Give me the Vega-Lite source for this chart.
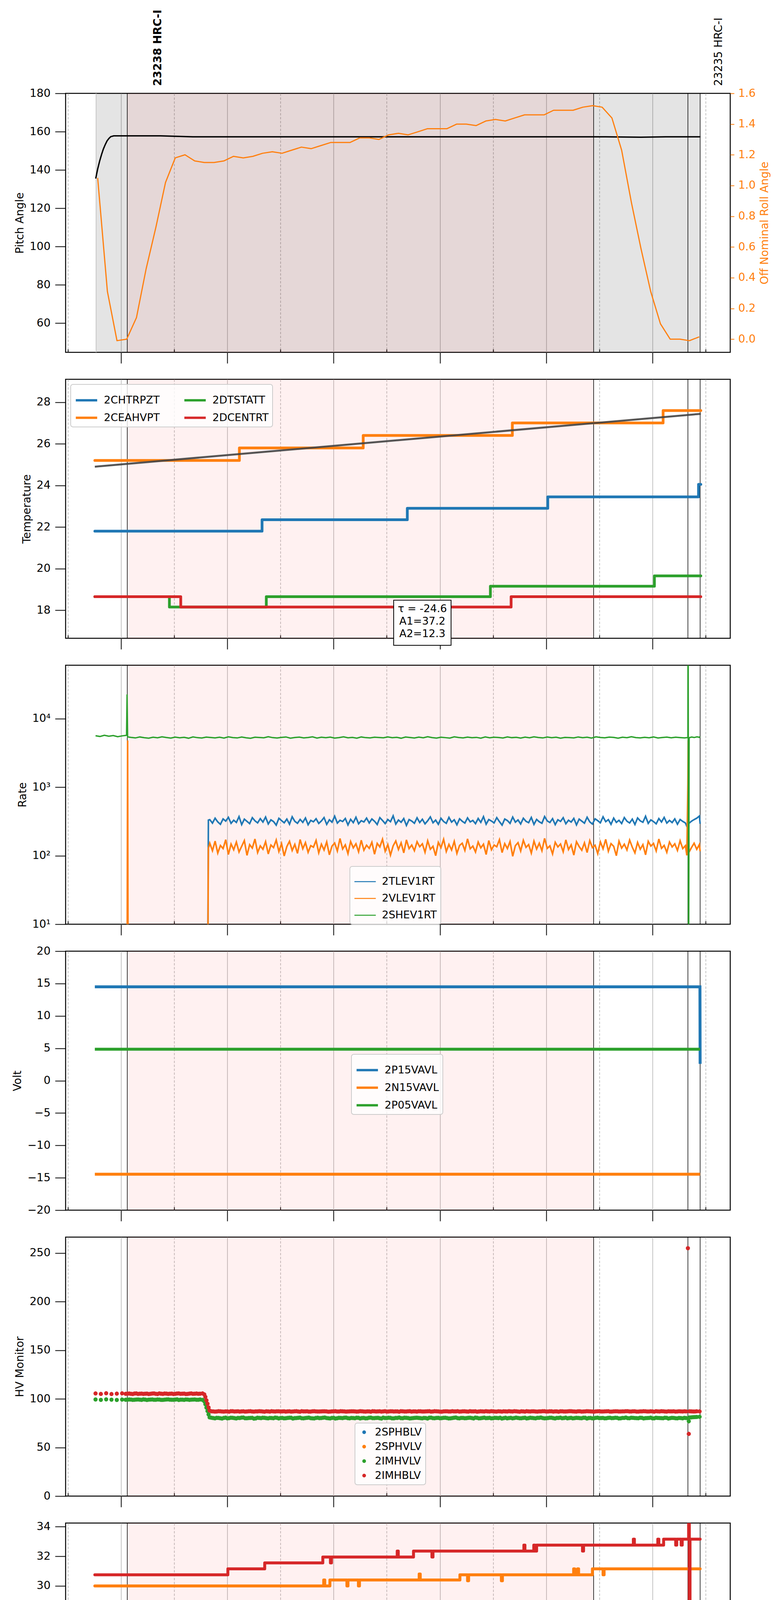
{
"$schema": "https://vega.github.io/schema/vega-lite/v6.json",
"background": "white",
"padding": {"left": 30, "top": 23, "right": 10, "bottom": 6},
"autosize": {"type": "pad"},
"spacing": 69,
"bounds": "flush",
"datasets": {
"spans": [{"span":"dwell","t":45.9,"t2":386.9},{"span":"obs","t":63.5,"t2":326.8}],
"events": [{"t":63.5},{"t":326.8},{"t":380.0},{"t":386.9}],
"obsids": [{"t":80.9,"label":"23238 HRC-I","current":true},{"t":397.6,"label":"23235 HRC-I","current":false}],
"pitch": [{"t":45.7,"v":135.5},{"t":46.8,"v":140.5},{"t":47.9,"v":144.6},{"t":49.0,"v":148.1},{"t":50.0,"v":150.9},{"t":51.1,"v":153.3},{"t":52.1,"v":155.2},{"t":53.2,"v":156.5},{"t":54.2,"v":157.4},{"t":55.9,"v":157.8},{"t":82.3,"v":157.8},{"t":100.6,"v":157.3},{"t":333.6,"v":157.3},{"t":353.4,"v":157.1},{"t":367.4,"v":157.3},{"t":387.1,"v":157.3}],
"roll": [{"t":46.8,"v":1.05},{"t":52.3,"v":0.31},{"t":57.7,"v":-0.01},{"t":63.2,"v":0.0},{"t":68.7,"v":0.14},{"t":74.2,"v":0.46},{"t":79.7,"v":0.73},{"t":85.1,"v":1.02},{"t":90.6,"v":1.18},{"t":96.1,"v":1.2},{"t":101.6,"v":1.16},{"t":107.0,"v":1.15},{"t":112.5,"v":1.15},{"t":118.0,"v":1.16},{"t":123.5,"v":1.19},{"t":129.0,"v":1.18},{"t":134.4,"v":1.19},{"t":139.9,"v":1.21},{"t":145.4,"v":1.22},{"t":150.9,"v":1.21},{"t":156.3,"v":1.23},{"t":161.8,"v":1.25},{"t":167.3,"v":1.24},{"t":172.8,"v":1.26},{"t":178.3,"v":1.28},{"t":183.7,"v":1.28},{"t":189.2,"v":1.28},{"t":194.7,"v":1.31},{"t":200.2,"v":1.31},{"t":205.6,"v":1.3},{"t":211.1,"v":1.33},{"t":216.6,"v":1.34},{"t":222.1,"v":1.33},{"t":227.6,"v":1.35},{"t":233.0,"v":1.37},{"t":238.5,"v":1.37},{"t":244.0,"v":1.37},{"t":249.5,"v":1.4},{"t":254.9,"v":1.4},{"t":260.4,"v":1.39},{"t":265.9,"v":1.42},{"t":271.4,"v":1.43},{"t":276.9,"v":1.42},{"t":282.3,"v":1.44},{"t":287.8,"v":1.46},{"t":293.3,"v":1.46},{"t":298.8,"v":1.46},{"t":304.2,"v":1.49},{"t":309.7,"v":1.49},{"t":315.2,"v":1.49},{"t":320.7,"v":1.51},{"t":326.2,"v":1.52},{"t":331.6,"v":1.51},{"t":337.1,"v":1.44},{"t":342.6,"v":1.23},{"t":348.1,"v":0.89},{"t":353.5,"v":0.59},{"t":359.0,"v":0.31},{"t":364.5,"v":0.1},{"t":370.0,"v":0.0},{"t":375.5,"v":0.0},{"t":380.9,"v":-0.01},{"t":386.4,"v":0.015}],
"temp": [{"t":45.2,"s":"2CHTRPZT","v":21.8},{"t":139.6,"s":"2CHTRPZT","v":22.35},{"t":221.6,"s":"2CHTRPZT","v":22.9},{"t":300.9,"s":"2CHTRPZT","v":23.45},{"t":386.0,"s":"2CHTRPZT","v":24.05},{"t":387.3,"s":"2CHTRPZT","v":24.05},
{"t":45.2,"s":"2CEAHVPT","v":25.2},{"t":126.8,"s":"2CEAHVPT","v":25.8},{"t":196.7,"s":"2CEAHVPT","v":26.4},{"t":280.9,"s":"2CEAHVPT","v":27.0},{"t":366.0,"s":"2CEAHVPT","v":27.6},{"t":387.3,"s":"2CEAHVPT","v":27.6},
{"t":45.2,"s":"2DTSTATT","v":18.65},{"t":87.3,"s":"2DTSTATT","v":18.15},{"t":142.0,"s":"2DTSTATT","v":18.65},{"t":268.5,"s":"2DTSTATT","v":19.15},{"t":361.1,"s":"2DTSTATT","v":19.65},{"t":387.3,"s":"2DTSTATT","v":19.65},
{"t":45.2,"s":"2DCENTRT","v":18.65},{"t":93.7,"s":"2DCENTRT","v":18.15},{"t":280.2,"s":"2DCENTRT","v":18.65},{"t":387.3,"s":"2DCENTRT","v":18.65}],
"fit": [{"t":45.2,"v":24.9},{"t":387.3,"v":27.44}],
"fitinfo": [{"label":"τ = -24.6\nA1=37.2\nA2=12.3"}],
"rate_tv": [{"t":45.6,"2TLEV1RT":1,"2VLEV1RT":1},{"t":63.4,"2TLEV1RT":1,"2VLEV1RT":1},{"t":63.7,"2TLEV1RT":1,"2VLEV1RT":4800},{"t":64.0,"2TLEV1RT":1,"2VLEV1RT":1},{"t":108.9,"2TLEV1RT":1,"2VLEV1RT":1},{"t":109.3,"2TLEV1RT":330,"2VLEV1RT":128},
{"t":110.1,"2TLEV1RT":335,"2VLEV1RT":152},{"t":111.6,"2TLEV1RT":298,"2VLEV1RT":118},{"t":113.1,"2TLEV1RT":352,"2VLEV1RT":163},{"t":114.6,"2TLEV1RT":311,"2VLEV1RT":109},{"t":116.1,"2TLEV1RT":287,"2VLEV1RT":141},{"t":117.6,"2TLEV1RT":344,"2VLEV1RT":127},{"t":119.1,"2TLEV1RT":319,"2VLEV1RT":171},{"t":120.6,"2TLEV1RT":363,"2VLEV1RT":104},{"t":122.1,"2TLEV1RT":296,"2VLEV1RT":148},{"t":123.6,"2TLEV1RT":329,"2VLEV1RT":122},{"t":125.1,"2TLEV1RT":305,"2VLEV1RT":158},{"t":126.6,"2TLEV1RT":372,"2VLEV1RT":113},{"t":128.1,"2TLEV1RT":284,"2VLEV1RT":137},{"t":129.6,"2TLEV1RT":341,"2VLEV1RT":166},{"t":131.1,"2TLEV1RT":316,"2VLEV1RT":101},{"t":132.6,"2TLEV1RT":293,"2VLEV1RT":145},{"t":134.1,"2TLEV1RT":358,"2VLEV1RT":129},{"t":135.6,"2TLEV1RT":322,"2VLEV1RT":175},{"t":137.1,"2TLEV1RT":301,"2VLEV1RT":111},{"t":138.6,"2TLEV1RT":347,"2VLEV1RT":139},
{"t":140.1,"2TLEV1RT":309,"2VLEV1RT":124},{"t":141.6,"2TLEV1RT":366,"2VLEV1RT":160},{"t":143.1,"2TLEV1RT":290,"2VLEV1RT":106},{"t":144.6,"2TLEV1RT":333,"2VLEV1RT":143},{"t":146.1,"2TLEV1RT":314,"2VLEV1RT":131},{"t":147.6,"2TLEV1RT":279,"2VLEV1RT":169},{"t":149.1,"2TLEV1RT":351,"2VLEV1RT":115},{"t":150.6,"2TLEV1RT":325,"2VLEV1RT":150},{"t":152.1,"2TLEV1RT":302,"2VLEV1RT":99},{"t":153.6,"2TLEV1RT":342,"2VLEV1RT":136},{"t":155.1,"2TLEV1RT":288,"2VLEV1RT":162},{"t":156.6,"2TLEV1RT":369,"2VLEV1RT":119},{"t":158.1,"2TLEV1RT":317,"2VLEV1RT":146},{"t":159.6,"2TLEV1RT":297,"2VLEV1RT":108},{"t":161.1,"2TLEV1RT":338,"2VLEV1RT":172},{"t":162.6,"2TLEV1RT":306,"2VLEV1RT":126},{"t":164.1,"2TLEV1RT":355,"2VLEV1RT":155},{"t":165.6,"2TLEV1RT":283,"2VLEV1RT":112},{"t":167.1,"2TLEV1RT":327,"2VLEV1RT":140},{"t":168.6,"2TLEV1RT":312,"2VLEV1RT":133},
{"t":170.1,"2TLEV1RT":346,"2VLEV1RT":167},{"t":171.6,"2TLEV1RT":295,"2VLEV1RT":110},{"t":173.1,"2TLEV1RT":321,"2VLEV1RT":147},{"t":174.6,"2TLEV1RT":360,"2VLEV1RT":121},{"t":176.1,"2TLEV1RT":286,"2VLEV1RT":159},{"t":177.6,"2TLEV1RT":334,"2VLEV1RT":103},{"t":179.1,"2TLEV1RT":308,"2VLEV1RT":138},{"t":180.6,"2TLEV1RT":377,"2VLEV1RT":153},{"t":182.1,"2TLEV1RT":299,"2VLEV1RT":117},{"t":183.6,"2TLEV1RT":328,"2VLEV1RT":178},{"t":185.1,"2TLEV1RT":315,"2VLEV1RT":125},{"t":186.6,"2TLEV1RT":349,"2VLEV1RT":144},{"t":188.1,"2TLEV1RT":281,"2VLEV1RT":107},{"t":189.6,"2TLEV1RT":339,"2VLEV1RT":161},{"t":191.1,"2TLEV1RT":303,"2VLEV1RT":130},{"t":192.6,"2TLEV1RT":364,"2VLEV1RT":149},{"t":194.1,"2TLEV1RT":292,"2VLEV1RT":114},{"t":195.6,"2TLEV1RT":324,"2VLEV1RT":168},{"t":197.1,"2TLEV1RT":310,"2VLEV1RT":120},{"t":198.6,"2TLEV1RT":353,"2VLEV1RT":142},
{"t":200.1,"2TLEV1RT":300,"2VLEV1RT":128},{"t":201.6,"2TLEV1RT":343,"2VLEV1RT":157},{"t":203.1,"2TLEV1RT":318,"2VLEV1RT":105},{"t":204.6,"2TLEV1RT":285,"2VLEV1RT":151},{"t":206.1,"2TLEV1RT":359,"2VLEV1RT":134},{"t":207.6,"2TLEV1RT":326,"2VLEV1RT":174},{"t":209.1,"2TLEV1RT":294,"2VLEV1RT":116},{"t":210.6,"2TLEV1RT":337,"2VLEV1RT":145},{"t":212.1,"2TLEV1RT":313,"2VLEV1RT":102},{"t":213.6,"2TLEV1RT":381,"2VLEV1RT":139},{"t":215.1,"2TLEV1RT":289,"2VLEV1RT":164},{"t":216.6,"2TLEV1RT":331,"2VLEV1RT":123},{"t":218.1,"2TLEV1RT":307,"2VLEV1RT":154},{"t":219.6,"2TLEV1RT":348,"2VLEV1RT":110},{"t":221.1,"2TLEV1RT":276,"2VLEV1RT":170},{"t":222.6,"2TLEV1RT":336,"2VLEV1RT":127},{"t":224.1,"2TLEV1RT":320,"2VLEV1RT":143},{"t":225.6,"2TLEV1RT":297,"2VLEV1RT":118},{"t":227.1,"2TLEV1RT":357,"2VLEV1RT":160},{"t":228.6,"2TLEV1RT":304,"2VLEV1RT":135},
{"t":230.1,"2TLEV1RT":340,"2VLEV1RT":149},{"t":231.6,"2TLEV1RT":291,"2VLEV1RT":112},{"t":233.1,"2TLEV1RT":323,"2VLEV1RT":165},{"t":234.6,"2TLEV1RT":368,"2VLEV1RT":124},{"t":236.1,"2TLEV1RT":302,"2VLEV1RT":137},{"t":237.6,"2TLEV1RT":330,"2VLEV1RT":100},{"t":239.1,"2TLEV1RT":287,"2VLEV1RT":156},{"t":240.6,"2TLEV1RT":351,"2VLEV1RT":131},{"t":242.1,"2TLEV1RT":315,"2VLEV1RT":173},{"t":243.6,"2TLEV1RT":296,"2VLEV1RT":115},{"t":245.1,"2TLEV1RT":362,"2VLEV1RT":146},{"t":246.6,"2TLEV1RT":309,"2VLEV1RT":121},{"t":248.1,"2TLEV1RT":334,"2VLEV1RT":162},{"t":249.6,"2TLEV1RT":282,"2VLEV1RT":108},{"t":251.1,"2TLEV1RT":345,"2VLEV1RT":141},{"t":252.6,"2TLEV1RT":318,"2VLEV1RT":152},{"t":254.1,"2TLEV1RT":299,"2VLEV1RT":119},{"t":255.6,"2TLEV1RT":356,"2VLEV1RT":176},{"t":257.1,"2TLEV1RT":311,"2VLEV1RT":126},{"t":258.6,"2TLEV1RT":327,"2VLEV1RT":138},
{"t":260.1,"2TLEV1RT":293,"2VLEV1RT":113},{"t":261.6,"2TLEV1RT":349,"2VLEV1RT":158},{"t":263.1,"2TLEV1RT":306,"2VLEV1RT":130},{"t":264.6,"2TLEV1RT":371,"2VLEV1RT":147},{"t":266.1,"2TLEV1RT":288,"2VLEV1RT":104},{"t":267.6,"2TLEV1RT":337,"2VLEV1RT":166},{"t":269.1,"2TLEV1RT":320,"2VLEV1RT":122},{"t":270.6,"2TLEV1RT":301,"2VLEV1RT":143},{"t":272.1,"2TLEV1RT":359,"2VLEV1RT":135},{"t":273.6,"2TLEV1RT":314,"2VLEV1RT":171},{"t":275.1,"2TLEV1RT":279,"2VLEV1RT":111},{"t":276.6,"2TLEV1RT":343,"2VLEV1RT":150},{"t":278.1,"2TLEV1RT":325,"2VLEV1RT":127},{"t":279.6,"2TLEV1RT":296,"2VLEV1RT":161},{"t":281.1,"2TLEV1RT":366,"2VLEV1RT":98},{"t":282.6,"2TLEV1RT":308,"2VLEV1RT":140},{"t":284.1,"2TLEV1RT":332,"2VLEV1RT":155},{"t":285.6,"2TLEV1RT":290,"2VLEV1RT":117},{"t":287.1,"2TLEV1RT":352,"2VLEV1RT":168},{"t":288.6,"2TLEV1RT":317,"2VLEV1RT":132},
{"t":290.1,"2TLEV1RT":303,"2VLEV1RT":145},{"t":291.6,"2TLEV1RT":361,"2VLEV1RT":109},{"t":293.1,"2TLEV1RT":286,"2VLEV1RT":163},{"t":294.6,"2TLEV1RT":338,"2VLEV1RT":125},{"t":296.1,"2TLEV1RT":312,"2VLEV1RT":152},{"t":297.6,"2TLEV1RT":297,"2VLEV1RT":118},{"t":299.1,"2TLEV1RT":373,"2VLEV1RT":179},{"t":300.6,"2TLEV1RT":321,"2VLEV1RT":128},{"t":302.1,"2TLEV1RT":305,"2VLEV1RT":139},{"t":303.6,"2TLEV1RT":347,"2VLEV1RT":106},{"t":305.1,"2TLEV1RT":284,"2VLEV1RT":157},{"t":306.6,"2TLEV1RT":334,"2VLEV1RT":134},{"t":308.1,"2TLEV1RT":316,"2VLEV1RT":148},{"t":309.6,"2TLEV1RT":358,"2VLEV1RT":114},{"t":311.1,"2TLEV1RT":292,"2VLEV1RT":170},{"t":312.6,"2TLEV1RT":329,"2VLEV1RT":123},{"t":314.1,"2TLEV1RT":309,"2VLEV1RT":144},{"t":315.6,"2TLEV1RT":350,"2VLEV1RT":102},{"t":317.1,"2TLEV1RT":281,"2VLEV1RT":160},{"t":318.6,"2TLEV1RT":342,"2VLEV1RT":136},
{"t":320.1,"2TLEV1RT":319,"2VLEV1RT":120},{"t":321.6,"2TLEV1RT":298,"2VLEV1RT":154},{"t":323.1,"2TLEV1RT":364,"2VLEV1RT":111},{"t":324.6,"2TLEV1RT":311,"2VLEV1RT":166},{"t":326.1,"2TLEV1RT":289,"2VLEV1RT":131},{"t":327.6,"2TLEV1RT":345,"2VLEV1RT":142},{"t":329.1,"2TLEV1RT":324,"2VLEV1RT":107},{"t":330.6,"2TLEV1RT":302,"2VLEV1RT":159},{"t":332.1,"2TLEV1RT":369,"2VLEV1RT":126},{"t":333.6,"2TLEV1RT":313,"2VLEV1RT":173},{"t":335.1,"2TLEV1RT":336,"2VLEV1RT":116},{"t":336.6,"2TLEV1RT":287,"2VLEV1RT":150},{"t":338.1,"2TLEV1RT":353,"2VLEV1RT":137},{"t":339.6,"2TLEV1RT":306,"2VLEV1RT":100},{"t":341.1,"2TLEV1RT":328,"2VLEV1RT":163},{"t":342.6,"2TLEV1RT":294,"2VLEV1RT":129},{"t":344.1,"2TLEV1RT":360,"2VLEV1RT":147},{"t":345.6,"2TLEV1RT":318,"2VLEV1RT":121},{"t":347.1,"2TLEV1RT":300,"2VLEV1RT":169},{"t":348.6,"2TLEV1RT":341,"2VLEV1RT":133},
{"t":350.1,"2TLEV1RT":285,"2VLEV1RT":110},{"t":351.6,"2TLEV1RT":355,"2VLEV1RT":156},{"t":353.1,"2TLEV1RT":322,"2VLEV1RT":124},{"t":354.6,"2TLEV1RT":307,"2VLEV1RT":145},{"t":356.1,"2TLEV1RT":376,"2VLEV1RT":103},{"t":357.6,"2TLEV1RT":296,"2VLEV1RT":162},{"t":359.1,"2TLEV1RT":333,"2VLEV1RT":138},{"t":360.6,"2TLEV1RT":314,"2VLEV1RT":151},{"t":362.1,"2TLEV1RT":291,"2VLEV1RT":117},{"t":363.6,"2TLEV1RT":348,"2VLEV1RT":175},{"t":365.1,"2TLEV1RT":310,"2VLEV1RT":128},{"t":366.6,"2TLEV1RT":362,"2VLEV1RT":141},{"t":368.1,"2TLEV1RT":299,"2VLEV1RT":112},{"t":369.6,"2TLEV1RT":327,"2VLEV1RT":158},{"t":371.1,"2TLEV1RT":304,"2VLEV1RT":134},{"t":372.6,"2TLEV1RT":344,"2VLEV1RT":149},{"t":374.1,"2TLEV1RT":288,"2VLEV1RT":119},{"t":375.6,"2TLEV1RT":337,"2VLEV1RT":165},{"t":377.1,"2TLEV1RT":316,"2VLEV1RT":127},
{"t":378.6,"2TLEV1RT":300,"2VLEV1RT":140},{"t":379.4,"2TLEV1RT":268,"2VLEV1RT":101},{"t":380.0,"2TLEV1RT":282,"2VLEV1RT":1100},{"t":380.2,"2TLEV1RT":290,"2VLEV1RT":4800},{"t":380.6,"2TLEV1RT":296,"2VLEV1RT":112},{"t":382.0,"2TLEV1RT":318,"2VLEV1RT":131},{"t":383.5,"2TLEV1RT":336,"2VLEV1RT":152},{"t":385.0,"2TLEV1RT":352,"2VLEV1RT":124},{"t":386.5,"2TLEV1RT":379,"2VLEV1RT":146},{"t":386.9,"2TLEV1RT":292,"2VLEV1RT":116}],
"rate_she": [{"t":45.6,"v":5620},{"t":48.1,"v":5480},{"t":50.6,"v":5710},{"t":53.1,"v":5530},{"t":55.6,"v":5650},{"t":58.1,"v":5440},{"t":60.6,"v":5590},{"t":63.1,"v":5700},{"t":63.4,"v":22500},{"t":63.7,"v":5400},
{"t":65.6,"v":5310},{"t":68.1,"v":5220},{"t":70.6,"v":5390},{"t":73.1,"v":5260},{"t":75.6,"v":5180},{"t":78.1,"v":5350},{"t":80.6,"v":5240},{"t":83.1,"v":5420},{"t":85.6,"v":5290},{"t":88.1,"v":5200},{"t":90.6,"v":5370},{"t":93.1,"v":5250},{"t":95.6,"v":5330},{"t":98.1,"v":5170},{"t":100.6,"v":5400},{"t":103.1,"v":5270},{"t":105.6,"v":5210},{"t":108.1,"v":5360},{"t":110.6,"v":5300},{"t":113.1,"v":5230},
{"t":115.6,"v":5340},{"t":118.1,"v":5190},{"t":120.6,"v":5410},{"t":123.1,"v":5280},{"t":125.6,"v":5220},{"t":128.1,"v":5380},{"t":130.6,"v":5250},{"t":133.1,"v":5160},{"t":135.6,"v":5350},{"t":138.1,"v":5300},{"t":140.6,"v":5240},{"t":143.1,"v":5430},{"t":145.6,"v":5270},{"t":148.1,"v":5210},{"t":150.6,"v":5320},{"t":153.1,"v":5390},{"t":155.6,"v":5180},{"t":158.1,"v":5290},{"t":160.6,"v":5360},{"t":163.1,"v":5230},
{"t":165.6,"v":5300},{"t":168.1,"v":5410},{"t":170.6,"v":5200},{"t":173.1,"v":5340},{"t":175.6,"v":5260},{"t":178.1,"v":5370},{"t":180.6,"v":5190},{"t":183.1,"v":5280},{"t":185.6,"v":5420},{"t":188.1,"v":5250},{"t":190.6,"v":5310},{"t":193.1,"v":5180},{"t":195.6,"v":5390},{"t":198.1,"v":5270},{"t":200.6,"v":5220},{"t":203.1,"v":5350},{"t":205.6,"v":5300},{"t":208.1,"v":5240},{"t":210.6,"v":5400},{"t":213.1,"v":5260},
{"t":215.6,"v":5330},{"t":218.1,"v":5170},{"t":220.6,"v":5380},{"t":223.1,"v":5290},{"t":225.6,"v":5210},{"t":228.1,"v":5360},{"t":230.6,"v":5250},{"t":233.1,"v":5440},{"t":235.6,"v":5280},{"t":238.1,"v":5200},{"t":240.6,"v":5340},{"t":243.1,"v":5270},{"t":245.6,"v":5190},{"t":248.1,"v":5410},{"t":250.6,"v":5300},{"t":253.1,"v":5230},{"t":255.6,"v":5370},{"t":258.1,"v":5260},{"t":260.6,"v":5320},{"t":263.1,"v":5180},
{"t":265.6,"v":5390},{"t":268.1,"v":5240},{"t":270.6,"v":5350},{"t":273.1,"v":5290},{"t":275.6,"v":5210},{"t":278.1,"v":5400},{"t":280.6,"v":5270},{"t":283.1,"v":5330},{"t":285.6,"v":5190},{"t":288.1,"v":5360},{"t":290.6,"v":5250},{"t":293.1,"v":5420},{"t":295.6,"v":5300},{"t":298.1,"v":5220},{"t":300.6,"v":5380},{"t":303.1,"v":5260},{"t":305.6,"v":5340},{"t":308.1,"v":5170},{"t":310.6,"v":5310},{"t":313.1,"v":5280},
{"t":315.6,"v":5230},{"t":318.1,"v":5390},{"t":320.6,"v":5270},{"t":323.1,"v":5350},{"t":325.6,"v":5200},{"t":328.1,"v":5410},{"t":330.6,"v":5290},{"t":333.1,"v":5240},{"t":335.6,"v":5370},{"t":338.1,"v":5310},{"t":340.6,"v":5180},{"t":343.1,"v":5340},{"t":345.6,"v":5260},{"t":348.1,"v":5430},{"t":350.6,"v":5280},{"t":353.1,"v":5220},{"t":355.6,"v":5330},{"t":358.1,"v":5250},{"t":360.6,"v":5390},{"t":363.1,"v":5210},
{"t":365.6,"v":5300},{"t":368.1,"v":5370},{"t":370.6,"v":5240},{"t":373.1,"v":5350},{"t":375.6,"v":5280},{"t":378.1,"v":5220},{"t":379.6,"v":5280},{"t":380.0,"v":5300},{"t":380.1,"v":1000000},{"t":380.4,"v":1},{"t":380.7,"v":5250},{"t":382.1,"v":5380},{"t":383.6,"v":5290},{"t":385.1,"v":5410},{"t":386.5,"v":5330},{"t":386.9,"v":5450}],
"volt": [{"t":45.2,"s":"2P15VAVL","v":14.5},{"t":386.8,"s":"2P15VAVL","v":14.5},{"t":386.9,"s":"2P15VAVL","v":2.6},{"t":45.2,"s":"2N15VAVL","v":-14.45},{"t":386.9,"s":"2N15VAVL","v":-14.45},{"t":45.2,"s":"2P05VAVL","v":4.85},{"t":386.9,"s":"2P05VAVL","v":4.85}],
"hv": [{"t":45.6,"2IMHVLV":99.4,"2IMHBLV":105.6},{"t":48.6,"2IMHVLV":99.0,"2IMHBLV":105.1},{"t":51.6,"2IMHVLV":99.5,"2IMHBLV":105.8},{"t":54.6,"2IMHVLV":99.2,"2IMHBLV":105.0},{"t":57.6,"2IMHVLV":98.9,"2IMHBLV":105.4},{"t":60.6,"2IMHVLV":99.3,"2IMHBLV":105.7},{"t":62.6,"2IMHVLV":99.1,"2IMHBLV":105.2},{"t":64.6,"2IMHVLV":99.4,"2IMHBLV":105.5},{"t":66.6,"2IMHVLV":99.0,"2IMHBLV":105.0},{"t":68.6,"2IMHVLV":99.3,"2IMHBLV":105.6},{"t":70.6,"2IMHVLV":99.2,"2IMHBLV":105.3},{"t":72.6,"2IMHVLV":99.5,"2IMHBLV":105.1},{"t":74.6,"2IMHVLV":98.9,"2IMHBLV":105.4},{"t":76.6,"2IMHVLV":99.3,"2IMHBLV":105.2},{"t":78.6,"2IMHVLV":99.1,"2IMHBLV":105.6},{"t":80.6,"2IMHVLV":99.4,"2IMHBLV":105.0},{"t":82.6,"2IMHVLV":99.0,"2IMHBLV":105.3},{"t":84.6,"2IMHVLV":99.2,"2IMHBLV":105.5},{"t":86.6,"2IMHVLV":99.5,"2IMHBLV":105.1},{"t":88.6,"2IMHVLV":99.1,"2IMHBLV":105.4},{"t":90.6,"2IMHVLV":99.3,"2IMHBLV":105.2},{"t":92.6,"2IMHVLV":98.9,"2IMHBLV":105.6},{"t":94.6,"2IMHVLV":99.2,"2IMHBLV":105.3},{"t":96.6,"2IMHVLV":99.4,"2IMHBLV":105.0},{"t":98.6,"2IMHVLV":99.0,"2IMHBLV":105.4},{"t":100.6,"2IMHVLV":99.3,"2IMHBLV":105.2},{"t":102.6,"2IMHVLV":99.1,"2IMHBLV":105.5},{"t":104.6,"2IMHVLV":99.4,"2IMHBLV":105.3},{"t":106.0,"2IMHVLV":99.0,"2IMHBLV":105.6},{"t":107.0,"2IMHVLV":97.5,"2IMHBLV":104.6},{"t":107.6,"2IMHVLV":94.5,"2IMHBLV":102.0},{"t":108.2,"2IMHVLV":91.0,"2IMHBLV":98.5},{"t":108.8,"2IMHVLV":87.5,"2IMHBLV":95.0},{"t":109.4,"2IMHVLV":84.0,"2IMHBLV":91.2},{"t":110.0,"2IMHVLV":81.0,"2IMHBLV":88.0},
{"t":63.6,"2IMHVLV":99.2,"2IMHBLV":105.4},{"t":65.6,"2IMHVLV":99.3,"2IMHBLV":105.2},{"t":67.6,"2IMHVLV":99.1,"2IMHBLV":105.5},{"t":69.6,"2IMHVLV":99.4,"2IMHBLV":105.1},{"t":71.6,"2IMHVLV":99.0,"2IMHBLV":105.4},{"t":73.6,"2IMHVLV":99.3,"2IMHBLV":105.3},{"t":75.6,"2IMHVLV":99.2,"2IMHBLV":105.0},{"t":77.6,"2IMHVLV":99.4,"2IMHBLV":105.5},{"t":79.6,"2IMHVLV":99.1,"2IMHBLV":105.2},{"t":81.6,"2IMHVLV":99.3,"2IMHBLV":105.6},{"t":83.6,"2IMHVLV":99.0,"2IMHBLV":105.1},{"t":85.6,"2IMHVLV":99.4,"2IMHBLV":105.4},{"t":87.6,"2IMHVLV":99.2,"2IMHBLV":105.3},{"t":89.6,"2IMHVLV":99.1,"2IMHBLV":105.0},{"t":91.6,"2IMHVLV":99.5,"2IMHBLV":105.5},{"t":93.6,"2IMHVLV":99.2,"2IMHBLV":105.2},{"t":95.6,"2IMHVLV":99.0,"2IMHBLV":105.4},{"t":97.6,"2IMHVLV":99.3,"2IMHBLV":105.1},{"t":99.6,"2IMHVLV":99.2,"2IMHBLV":105.6},{"t":101.6,"2IMHVLV":99.4,"2IMHBLV":105.3},{"t":103.6,"2IMHVLV":99.1,"2IMHBLV":105.2},
{"t":111,"2IMHVLV":80.6,"2IMHBLV":87.2},{"t":113,"2IMHVLV":80.0,"2IMHBLV":86.9},{"t":115,"2IMHVLV":80.4,"2IMHBLV":87.3},{"t":117,"2IMHVLV":79.8,"2IMHBLV":87.0},{"t":119,"2IMHVLV":80.7,"2IMHBLV":87.1},{"t":121,"2IMHVLV":80.2,"2IMHBLV":86.8},{"t":123,"2IMHVLV":80.5,"2IMHBLV":87.3},{"t":125,"2IMHVLV":79.9,"2IMHBLV":87.1},{"t":127,"2IMHVLV":80.3,"2IMHBLV":86.9},{"t":129,"2IMHVLV":80.8,"2IMHBLV":87.2},{"t":131,"2IMHVLV":80.1,"2IMHBLV":87.0},{"t":133,"2IMHVLV":80.4,"2IMHBLV":87.3},{"t":135,"2IMHVLV":79.7,"2IMHBLV":86.9},{"t":137,"2IMHVLV":80.6,"2IMHBLV":87.1},{"t":139,"2IMHVLV":80.2,"2IMHBLV":87.2},{"t":141,"2IMHVLV":80.5,"2IMHBLV":86.8},{"t":143,"2IMHVLV":80.0,"2IMHBLV":87.1},{"t":145,"2IMHVLV":80.3,"2IMHBLV":87.3},{"t":147,"2IMHVLV":80.7,"2IMHBLV":87.0},{"t":149,"2IMHVLV":79.9,"2IMHBLV":87.2},
{"t":151,"2IMHVLV":80.4,"2IMHBLV":87.1},{"t":153,"2IMHVLV":80.1,"2IMHBLV":86.9},{"t":155,"2IMHVLV":80.6,"2IMHBLV":87.2},{"t":157,"2IMHVLV":79.8,"2IMHBLV":87.0},{"t":159,"2IMHVLV":80.3,"2IMHBLV":87.3},{"t":161,"2IMHVLV":80.7,"2IMHBLV":86.8},{"t":163,"2IMHVLV":80.0,"2IMHBLV":87.1},{"t":165,"2IMHVLV":80.5,"2IMHBLV":87.2},{"t":167,"2IMHVLV":80.2,"2IMHBLV":86.9},{"t":169,"2IMHVLV":79.9,"2IMHBLV":87.3},{"t":171,"2IMHVLV":80.6,"2IMHBLV":87.0},{"t":173,"2IMHVLV":80.3,"2IMHBLV":87.1},{"t":175,"2IMHVLV":80.8,"2IMHBLV":87.2},{"t":177,"2IMHVLV":80.1,"2IMHBLV":86.8},{"t":179,"2IMHVLV":80.4,"2IMHBLV":87.1},{"t":181,"2IMHVLV":79.8,"2IMHBLV":87.3},{"t":183,"2IMHVLV":80.5,"2IMHBLV":87.0},{"t":185,"2IMHVLV":80.2,"2IMHBLV":87.2},{"t":187,"2IMHVLV":80.7,"2IMHBLV":86.9},{"t":189,"2IMHVLV":80.0,"2IMHBLV":87.1},
{"t":191,"2IMHVLV":80.3,"2IMHBLV":87.2},{"t":193,"2IMHVLV":80.6,"2IMHBLV":86.9},{"t":195,"2IMHVLV":79.9,"2IMHBLV":87.3},{"t":197,"2IMHVLV":80.4,"2IMHBLV":87.0},{"t":199,"2IMHVLV":80.1,"2IMHBLV":87.1},{"t":201,"2IMHVLV":80.7,"2IMHBLV":86.8},{"t":203,"2IMHVLV":80.2,"2IMHBLV":87.2},{"t":205,"2IMHVLV":80.5,"2IMHBLV":87.1},{"t":207,"2IMHVLV":79.8,"2IMHBLV":86.9},{"t":209,"2IMHVLV":80.3,"2IMHBLV":87.3},{"t":211,"2IMHVLV":80.6,"2IMHBLV":87.0},{"t":213,"2IMHVLV":80.0,"2IMHBLV":87.2},{"t":215,"2IMHVLV":80.4,"2IMHBLV":87.1},{"t":217,"2IMHVLV":80.8,"2IMHBLV":86.8},{"t":219,"2IMHVLV":80.1,"2IMHBLV":87.2},{"t":221,"2IMHVLV":80.5,"2IMHBLV":87.0},{"t":223,"2IMHVLV":79.9,"2IMHBLV":87.3},{"t":225,"2IMHVLV":80.3,"2IMHBLV":87.1},{"t":227,"2IMHVLV":80.6,"2IMHBLV":86.9},{"t":229,"2IMHVLV":80.2,"2IMHBLV":87.2},
{"t":231,"2IMHVLV":80.4,"2IMHBLV":87.0},{"t":233,"2IMHVLV":79.8,"2IMHBLV":87.2},{"t":235,"2IMHVLV":80.7,"2IMHBLV":86.9},{"t":237,"2IMHVLV":80.1,"2IMHBLV":87.3},{"t":239,"2IMHVLV":80.5,"2IMHBLV":87.1},{"t":241,"2IMHVLV":80.2,"2IMHBLV":86.8},{"t":243,"2IMHVLV":80.6,"2IMHBLV":87.2},{"t":245,"2IMHVLV":79.9,"2IMHBLV":87.0},{"t":247,"2IMHVLV":80.3,"2IMHBLV":87.3},{"t":249,"2IMHVLV":80.8,"2IMHBLV":87.1},{"t":251,"2IMHVLV":80.0,"2IMHBLV":86.9},{"t":253,"2IMHVLV":80.4,"2IMHBLV":87.2},{"t":255,"2IMHVLV":80.2,"2IMHBLV":87.0},{"t":257,"2IMHVLV":80.6,"2IMHBLV":87.3},{"t":259,"2IMHVLV":79.9,"2IMHBLV":87.1},{"t":261,"2IMHVLV":80.5,"2IMHBLV":86.8},{"t":263,"2IMHVLV":80.1,"2IMHBLV":87.2},{"t":265,"2IMHVLV":80.7,"2IMHBLV":87.0},{"t":267,"2IMHVLV":80.3,"2IMHBLV":87.1},{"t":269,"2IMHVLV":80.0,"2IMHBLV":87.3},
{"t":271,"2IMHVLV":80.5,"2IMHBLV":87.0},{"t":273,"2IMHVLV":80.2,"2IMHBLV":87.2},{"t":275,"2IMHVLV":79.8,"2IMHBLV":86.9},{"t":277,"2IMHVLV":80.6,"2IMHBLV":87.1},{"t":279,"2IMHVLV":80.3,"2IMHBLV":87.3},{"t":281,"2IMHVLV":80.0,"2IMHBLV":87.0},{"t":283,"2IMHVLV":80.7,"2IMHBLV":87.2},{"t":285,"2IMHVLV":80.1,"2IMHBLV":86.8},{"t":287,"2IMHVLV":80.4,"2IMHBLV":87.1},{"t":289,"2IMHVLV":79.9,"2IMHBLV":87.3},{"t":291,"2IMHVLV":80.6,"2IMHBLV":87.0},{"t":293,"2IMHVLV":80.2,"2IMHBLV":87.2},{"t":295,"2IMHVLV":80.5,"2IMHBLV":86.9},{"t":297,"2IMHVLV":80.8,"2IMHBLV":87.1},{"t":299,"2IMHVLV":80.0,"2IMHBLV":87.3},{"t":301,"2IMHVLV":80.3,"2IMHBLV":87.0},{"t":303,"2IMHVLV":80.6,"2IMHBLV":87.2},{"t":305,"2IMHVLV":79.9,"2IMHBLV":87.1},{"t":307,"2IMHVLV":80.4,"2IMHBLV":86.8},{"t":309,"2IMHVLV":80.1,"2IMHBLV":87.2},
{"t":311,"2IMHVLV":80.7,"2IMHBLV":87.0},{"t":313,"2IMHVLV":80.3,"2IMHBLV":87.3},{"t":315,"2IMHVLV":80.0,"2IMHBLV":87.1},{"t":317,"2IMHVLV":80.5,"2IMHBLV":86.9},{"t":319,"2IMHVLV":80.2,"2IMHBLV":87.2},{"t":321,"2IMHVLV":80.6,"2IMHBLV":87.0},{"t":323,"2IMHVLV":79.8,"2IMHBLV":87.3},{"t":325,"2IMHVLV":80.4,"2IMHBLV":87.1},{"t":327,"2IMHVLV":80.1,"2IMHBLV":86.8},{"t":329,"2IMHVLV":80.7,"2IMHBLV":87.2},{"t":331,"2IMHVLV":80.3,"2IMHBLV":87.0},{"t":333,"2IMHVLV":80.0,"2IMHBLV":87.1},{"t":335,"2IMHVLV":80.5,"2IMHBLV":87.3},{"t":337,"2IMHVLV":80.2,"2IMHBLV":86.9},{"t":339,"2IMHVLV":80.6,"2IMHBLV":87.2},{"t":341,"2IMHVLV":79.9,"2IMHBLV":87.0},{"t":343,"2IMHVLV":80.4,"2IMHBLV":87.1},{"t":345,"2IMHVLV":80.8,"2IMHBLV":87.3},{"t":347,"2IMHVLV":80.1,"2IMHBLV":87.0},{"t":349,"2IMHVLV":80.5,"2IMHBLV":87.2},
{"t":351,"2IMHVLV":80.2,"2IMHBLV":86.9},{"t":353,"2IMHVLV":80.6,"2IMHBLV":87.1},{"t":355,"2IMHVLV":79.9,"2IMHBLV":87.3},{"t":357,"2IMHVLV":80.3,"2IMHBLV":87.0},{"t":359,"2IMHVLV":80.7,"2IMHBLV":87.2},{"t":361,"2IMHVLV":80.0,"2IMHBLV":86.8},{"t":363,"2IMHVLV":80.4,"2IMHBLV":87.1},{"t":365,"2IMHVLV":80.2,"2IMHBLV":87.3},{"t":367,"2IMHVLV":80.6,"2IMHBLV":87.0},{"t":369,"2IMHVLV":79.8,"2IMHBLV":87.2},{"t":371,"2IMHVLV":80.5,"2IMHBLV":87.1},{"t":373,"2IMHVLV":80.1,"2IMHBLV":86.9},{"t":375,"2IMHVLV":80.4,"2IMHBLV":87.2},{"t":377,"2IMHVLV":80.0,"2IMHBLV":87.0},{"t":379,"2IMHVLV":80.3,"2IMHBLV":87.1},{"t":380.0,"2IMHVLV":null,"2IMHBLV":255.0},{"t":380.5,"2IMHVLV":77.0,"2IMHBLV":64.0},{"t":381,"2IMHVLV":80.9,"2IMHBLV":87.2},{"t":383,"2IMHVLV":81.2,"2IMHBLV":87.0},{"t":385,"2IMHVLV":81.4,"2IMHBLV":87.2},{"t":386.6,"2IMHVLV":81.6,"2IMHBLV":87.1},
{"t":112,"2IMHVLV":80.3,"2IMHBLV":87.1},{"t":114,"2IMHVLV":80.5,"2IMHBLV":87.0},{"t":116,"2IMHVLV":80.1,"2IMHBLV":87.2},{"t":118,"2IMHVLV":80.4,"2IMHBLV":86.9},{"t":120,"2IMHVLV":80.0,"2IMHBLV":87.1},{"t":122,"2IMHVLV":80.6,"2IMHBLV":87.3},{"t":124,"2IMHVLV":80.2,"2IMHBLV":87.0},{"t":126,"2IMHVLV":80.4,"2IMHBLV":87.2},{"t":128,"2IMHVLV":80.7,"2IMHBLV":87.1},{"t":130,"2IMHVLV":80.1,"2IMHBLV":86.9},{"t":132,"2IMHVLV":80.3,"2IMHBLV":87.2},{"t":134,"2IMHVLV":80.5,"2IMHBLV":87.0},{"t":136,"2IMHVLV":79.9,"2IMHBLV":87.1},{"t":138,"2IMHVLV":80.4,"2IMHBLV":87.3},{"t":140,"2IMHVLV":80.6,"2IMHBLV":87.0},{"t":142,"2IMHVLV":80.2,"2IMHBLV":87.2},{"t":144,"2IMHVLV":80.4,"2IMHBLV":86.9},{"t":146,"2IMHVLV":80.1,"2IMHBLV":87.1},{"t":148,"2IMHVLV":80.5,"2IMHBLV":87.2},{"t":150,"2IMHVLV":80.3,"2IMHBLV":87.0},
{"t":152,"2IMHVLV":80.0,"2IMHBLV":87.2},{"t":154,"2IMHVLV":80.4,"2IMHBLV":87.1},{"t":156,"2IMHVLV":80.6,"2IMHBLV":86.9},{"t":158,"2IMHVLV":80.2,"2IMHBLV":87.2},{"t":160,"2IMHVLV":80.5,"2IMHBLV":87.0},{"t":162,"2IMHVLV":80.1,"2IMHBLV":87.3},{"t":164,"2IMHVLV":80.3,"2IMHBLV":87.1},{"t":166,"2IMHVLV":80.7,"2IMHBLV":86.9},{"t":168,"2IMHVLV":80.0,"2IMHBLV":87.2},{"t":170,"2IMHVLV":80.4,"2IMHBLV":87.1},{"t":172,"2IMHVLV":80.2,"2IMHBLV":87.0},{"t":174,"2IMHVLV":80.6,"2IMHBLV":87.2},{"t":176,"2IMHVLV":80.3,"2IMHBLV":87.1},{"t":178,"2IMHVLV":79.9,"2IMHBLV":86.9},{"t":180,"2IMHVLV":80.5,"2IMHBLV":87.2},{"t":182,"2IMHVLV":80.1,"2IMHBLV":87.0},{"t":184,"2IMHVLV":80.4,"2IMHBLV":87.3},{"t":186,"2IMHVLV":80.6,"2IMHBLV":87.1},{"t":188,"2IMHVLV":80.2,"2IMHBLV":87.0},{"t":190,"2IMHVLV":80.4,"2IMHBLV":87.2},
{"t":192,"2IMHVLV":80.1,"2IMHBLV":87.1},{"t":194,"2IMHVLV":80.5,"2IMHBLV":87.0},{"t":196,"2IMHVLV":80.3,"2IMHBLV":87.2},{"t":198,"2IMHVLV":80.0,"2IMHBLV":86.9},{"t":200,"2IMHVLV":80.6,"2IMHBLV":87.1},{"t":202,"2IMHVLV":80.2,"2IMHBLV":87.3},{"t":204,"2IMHVLV":80.4,"2IMHBLV":87.0},{"t":206,"2IMHVLV":80.1,"2IMHBLV":87.2},{"t":208,"2IMHVLV":80.7,"2IMHBLV":87.1},{"t":210,"2IMHVLV":80.3,"2IMHBLV":86.9},{"t":212,"2IMHVLV":80.5,"2IMHBLV":87.2},{"t":214,"2IMHVLV":80.0,"2IMHBLV":87.0},{"t":216,"2IMHVLV":80.4,"2IMHBLV":87.1},{"t":218,"2IMHVLV":80.2,"2IMHBLV":87.3},{"t":220,"2IMHVLV":80.6,"2IMHBLV":87.0},{"t":222,"2IMHVLV":80.3,"2IMHBLV":87.2},{"t":224,"2IMHVLV":80.1,"2IMHBLV":86.9},{"t":226,"2IMHVLV":80.5,"2IMHBLV":87.1},{"t":228,"2IMHVLV":80.4,"2IMHBLV":87.2},{"t":230,"2IMHVLV":80.0,"2IMHBLV":87.0},
{"t":232,"2IMHVLV":80.3,"2IMHBLV":87.1},{"t":234,"2IMHVLV":80.6,"2IMHBLV":87.3},{"t":236,"2IMHVLV":80.2,"2IMHBLV":87.0},{"t":238,"2IMHVLV":80.4,"2IMHBLV":87.2},{"t":240,"2IMHVLV":80.1,"2IMHBLV":86.9},{"t":242,"2IMHVLV":80.5,"2IMHBLV":87.1},{"t":244,"2IMHVLV":80.3,"2IMHBLV":87.2},{"t":246,"2IMHVLV":80.0,"2IMHBLV":87.0},{"t":248,"2IMHVLV":80.6,"2IMHBLV":87.1},{"t":250,"2IMHVLV":80.2,"2IMHBLV":87.3},{"t":252,"2IMHVLV":80.4,"2IMHBLV":87.0},{"t":254,"2IMHVLV":80.1,"2IMHBLV":87.2},{"t":256,"2IMHVLV":80.5,"2IMHBLV":86.9},{"t":258,"2IMHVLV":80.3,"2IMHBLV":87.1},{"t":260,"2IMHVLV":80.7,"2IMHBLV":87.2},{"t":262,"2IMHVLV":80.0,"2IMHBLV":87.0},{"t":264,"2IMHVLV":80.4,"2IMHBLV":87.1},{"t":266,"2IMHVLV":80.2,"2IMHBLV":87.3},{"t":268,"2IMHVLV":80.5,"2IMHBLV":87.0},{"t":270,"2IMHVLV":80.1,"2IMHBLV":87.2},
{"t":272,"2IMHVLV":80.4,"2IMHBLV":86.9},{"t":274,"2IMHVLV":80.6,"2IMHBLV":87.1},{"t":276,"2IMHVLV":80.2,"2IMHBLV":87.2},{"t":278,"2IMHVLV":80.0,"2IMHBLV":87.0},{"t":280,"2IMHVLV":80.5,"2IMHBLV":87.1},{"t":282,"2IMHVLV":80.3,"2IMHBLV":87.3},{"t":284,"2IMHVLV":80.4,"2IMHBLV":87.0},{"t":286,"2IMHVLV":80.1,"2IMHBLV":87.2},{"t":288,"2IMHVLV":80.6,"2IMHBLV":86.9},{"t":290,"2IMHVLV":80.2,"2IMHBLV":87.1},{"t":292,"2IMHVLV":80.4,"2IMHBLV":87.2},{"t":294,"2IMHVLV":80.0,"2IMHBLV":87.0},{"t":296,"2IMHVLV":80.5,"2IMHBLV":87.1},{"t":298,"2IMHVLV":80.3,"2IMHBLV":87.3},{"t":300,"2IMHVLV":80.1,"2IMHBLV":87.0},{"t":302,"2IMHVLV":80.6,"2IMHBLV":87.2},{"t":304,"2IMHVLV":80.2,"2IMHBLV":86.9},{"t":306,"2IMHVLV":80.4,"2IMHBLV":87.1},{"t":308,"2IMHVLV":80.7,"2IMHBLV":87.2},{"t":310,"2IMHVLV":80.3,"2IMHBLV":87.0},
{"t":312,"2IMHVLV":80.0,"2IMHBLV":87.1},{"t":314,"2IMHVLV":80.5,"2IMHBLV":87.3},{"t":316,"2IMHVLV":80.2,"2IMHBLV":87.0},{"t":318,"2IMHVLV":80.4,"2IMHBLV":87.2},{"t":320,"2IMHVLV":80.1,"2IMHBLV":86.9},{"t":322,"2IMHVLV":80.6,"2IMHBLV":87.1},{"t":324,"2IMHVLV":80.3,"2IMHBLV":87.2},{"t":326,"2IMHVLV":80.0,"2IMHBLV":87.0},{"t":328,"2IMHVLV":80.5,"2IMHBLV":87.1},{"t":330,"2IMHVLV":80.2,"2IMHBLV":87.3},{"t":332,"2IMHVLV":80.4,"2IMHBLV":87.0},{"t":334,"2IMHVLV":80.1,"2IMHBLV":87.2},{"t":336,"2IMHVLV":80.6,"2IMHBLV":86.9},{"t":338,"2IMHVLV":80.3,"2IMHBLV":87.1},{"t":340,"2IMHVLV":80.5,"2IMHBLV":87.2},{"t":342,"2IMHVLV":80.0,"2IMHBLV":87.0},{"t":344,"2IMHVLV":80.4,"2IMHBLV":87.1},{"t":346,"2IMHVLV":80.2,"2IMHBLV":87.3},{"t":348,"2IMHVLV":80.6,"2IMHBLV":87.0},{"t":350,"2IMHVLV":80.3,"2IMHBLV":87.2},
{"t":352,"2IMHVLV":80.1,"2IMHBLV":86.9},{"t":354,"2IMHVLV":80.5,"2IMHBLV":87.1},{"t":356,"2IMHVLV":80.2,"2IMHBLV":87.2},{"t":358,"2IMHVLV":80.4,"2IMHBLV":87.0},{"t":360,"2IMHVLV":80.0,"2IMHBLV":87.1},{"t":362,"2IMHVLV":80.6,"2IMHBLV":87.3},{"t":364,"2IMHVLV":80.3,"2IMHBLV":87.0},{"t":366,"2IMHVLV":80.1,"2IMHBLV":87.2},{"t":368,"2IMHVLV":80.5,"2IMHBLV":86.9},{"t":370,"2IMHVLV":80.2,"2IMHBLV":87.1},{"t":372,"2IMHVLV":80.4,"2IMHBLV":87.2},{"t":374,"2IMHVLV":80.0,"2IMHBLV":87.0},{"t":376,"2IMHVLV":80.3,"2IMHBLV":87.1},{"t":378,"2IMHVLV":80.5,"2IMHBLV":87.2},{"t":382,"2IMHVLV":81.0,"2IMHBLV":87.1},{"t":384,"2IMHVLV":81.3,"2IMHBLV":87.0}],
"dettemp": [{"t":45.2,"s":"2SPINATM","v":19.6},{"t":60.4,"s":"2SPINATM","v":18.95},{"t":222.3,"s":"2SPINATM","v":19.6},{"t":222.9,"s":"2SPINATM","v":18.95},{"t":223.6,"s":"2SPINATM","v":19.6},{"t":224.2,"s":"2SPINATM","v":18.95},{"t":225.0,"s":"2SPINATM","v":19.6},{"t":225.8,"s":"2SPINATM","v":18.95},{"t":226.6,"s":"2SPINATM","v":19.6},{"t":227.4,"s":"2SPINATM","v":18.95},{"t":228.0,"s":"2SPINATM","v":19.6},{"t":234.5,"s":"2SPINATM","v":18.95},{"t":235.1,"s":"2SPINATM","v":19.6},{"t":386.9,"s":"2SPINATM","v":19.6},
{"t":45.2,"s":"2SPHVATM","v":30.0},{"t":174.4,"s":"2SPHVATM","v":30.4},{"t":175.0,"s":"2SPHVATM","v":30.0},{"t":177.9,"s":"2SPHVATM","v":30.4},{"t":187.5,"s":"2SPHVATM","v":30.0},{"t":188.1,"s":"2SPHVATM","v":30.4},{"t":194.0,"s":"2SPHVATM","v":30.0},{"t":194.6,"s":"2SPHVATM","v":30.4},{"t":228.3,"s":"2SPHVATM","v":30.8},{"t":228.9,"s":"2SPHVATM","v":30.4},{"t":251.3,"s":"2SPHVATM","v":30.75},{"t":255.6,"s":"2SPHVATM","v":30.35},{"t":256.2,"s":"2SPHVATM","v":30.75},{"t":274.7,"s":"2SPHVATM","v":30.35},{"t":275.3,"s":"2SPHVATM","v":30.75},{"t":315.5,"s":"2SPHVATM","v":31.15},{"t":316.1,"s":"2SPHVATM","v":30.75},{"t":317.7,"s":"2SPHVATM","v":31.15},{"t":318.3,"s":"2SPHVATM","v":30.75},{"t":326.1,"s":"2SPHVATM","v":31.15},{"t":332.1,"s":"2SPHVATM","v":30.75},{"t":332.7,"s":"2SPHVATM","v":31.15},{"t":386.9,"s":"2SPHVATM","v":31.15},
{"t":45.2,"s":"2IMINATM","v":18.25},{"t":329.7,"s":"2IMINATM","v":18.95},{"t":330.3,"s":"2IMINATM","v":18.25},{"t":331.0,"s":"2IMINATM","v":18.95},{"t":331.6,"s":"2IMINATM","v":18.25},{"t":332.3,"s":"2IMINATM","v":18.95},{"t":333.0,"s":"2IMINATM","v":18.25},{"t":333.7,"s":"2IMINATM","v":18.95},{"t":338.5,"s":"2IMINATM","v":18.25},{"t":339.1,"s":"2IMINATM","v":18.95},{"t":355.7,"s":"2IMINATM","v":18.25},{"t":356.3,"s":"2IMINATM","v":18.95},{"t":386.9,"s":"2IMINATM","v":18.95},
{"t":45.2,"s":"2IMHVATM","v":30.75},{"t":120.3,"s":"2IMHVATM","v":31.15},{"t":141.1,"s":"2IMHVATM","v":31.55},{"t":173.9,"s":"2IMHVATM","v":31.95},{"t":178.2,"s":"2IMHVATM","v":31.55},{"t":178.8,"s":"2IMHVATM","v":31.95},{"t":215.9,"s":"2IMHVATM","v":32.35},{"t":216.5,"s":"2IMHVATM","v":31.95},{"t":225.1,"s":"2IMHVATM","v":32.35},{"t":235.5,"s":"2IMHVATM","v":31.95},{"t":236.1,"s":"2IMHVATM","v":32.35},{"t":287.4,"s":"2IMHVATM","v":32.75},{"t":288.0,"s":"2IMHVATM","v":32.35},{"t":293.0,"s":"2IMHVATM","v":32.75},{"t":293.6,"s":"2IMHVATM","v":32.35},{"t":294.6,"s":"2IMHVATM","v":32.75},{"t":320.5,"s":"2IMHVATM","v":32.35},{"t":321.1,"s":"2IMHVATM","v":32.75},{"t":349.2,"s":"2IMHVATM","v":33.15},{"t":349.8,"s":"2IMHVATM","v":32.75},{"t":363.0,"s":"2IMHVATM","v":33.15},{"t":363.6,"s":"2IMHVATM","v":32.75},{"t":366.3,"s":"2IMHVATM","v":33.15},{"t":373.1,"s":"2IMHVATM","v":32.75},{"t":373.7,"s":"2IMHVATM","v":33.15},{"t":376.2,"s":"2IMHVATM","v":32.75},{"t":376.8,"s":"2IMHVATM","v":33.15},{"t":380.4,"s":"2IMHVATM","v":50},{"t":380.8,"s":"2IMHVATM","v":0},{"t":381.2,"s":"2IMHVATM","v":33.15},{"t":386.9,"s":"2IMHVATM","v":33.15}],
"featemp": [{"t":45.2,"s":"2FHTRMZT","v":19.7},{"t":112.7,"s":"2FHTRMZT","v":20.2},{"t":124.3,"s":"2FHTRMZT","v":21.3},{"t":124.9,"s":"2FHTRMZT","v":20.2},{"t":178.7,"s":"2FHTRMZT","v":20.75},{"t":213.1,"s":"2FHTRMZT","v":20.2},{"t":213.7,"s":"2FHTRMZT","v":20.75},{"t":239.5,"s":"2FHTRMZT","v":21.3},{"t":240.1,"s":"2FHTRMZT","v":20.75},{"t":246.2,"s":"2FHTRMZT","v":21.25},{"t":315.7,"s":"2FHTRMZT","v":21.8},{"t":353.7,"s":"2FHTRMZT","v":21.25},{"t":354.3,"s":"2FHTRMZT","v":21.8},{"t":385.7,"s":"2FHTRMZT","v":22.35},{"t":386.3,"s":"2FHTRMZT","v":21.8},{"t":386.9,"s":"2FHTRMZT","v":21.8},
{"t":45.2,"s":"2FRADPYT","v":14.75},{"t":48.3,"s":"2FRADPYT","v":15.25},{"t":68.2,"s":"2FRADPYT","v":15.7},{"t":90.2,"s":"2FRADPYT","v":16.2},{"t":141.1,"s":"2FRADPYT","v":16.65},{"t":202.6,"s":"2FRADPYT","v":17.15},{"t":266.2,"s":"2FRADPYT","v":17.65},{"t":332.5,"s":"2FRADPYT","v":18.15},{"t":386.9,"s":"2FRADPYT","v":18.15},
{"t":45.2,"s":"2FEPRATM","v":22.4},{"t":158.8,"s":"2FEPRATM","v":23.15},{"t":264.5,"s":"2FEPRATM","v":23.9},{"t":270.5,"s":"2FEPRATM","v":23.15},{"t":271.1,"s":"2FEPRATM","v":23.9},{"t":373.3,"s":"2FEPRATM","v":24.65},{"t":380.4,"s":"2FEPRATM","v":26.0},{"t":380.8,"s":"2FEPRATM","v":21.8},{"t":381.2,"s":"2FEPRATM","v":24.65},{"t":386.9,"s":"2FEPRATM","v":24.65},
{"t":45.2,"s":"2FE00ATM","v":19.9},{"t":90.2,"s":"2FE00ATM","v":20.2},{"t":117.8,"s":"2FE00ATM","v":19.25},{"t":118.4,"s":"2FE00ATM","v":20.2},{"t":120.4,"s":"2FE00ATM","v":19.8},{"t":121.0,"s":"2FE00ATM","v":20.2},{"t":127.8,"s":"2FE00ATM","v":20.5},{"t":128.4,"s":"2FE00ATM","v":20.2},{"t":138.5,"s":"2FE00ATM","v":20.5},{"t":165.0,"s":"2FE00ATM","v":20.15},{"t":165.6,"s":"2FE00ATM","v":20.5},{"t":189.1,"s":"2FE00ATM","v":20.8},{"t":191.2,"s":"2FE00ATM","v":21.1},{"t":191.8,"s":"2FE00ATM","v":20.8},{"t":194.9,"s":"2FE00ATM","v":20.45},{"t":195.5,"s":"2FE00ATM","v":20.8},{"t":202.4,"s":"2FE00ATM","v":21.1},{"t":203.0,"s":"2FE00ATM","v":20.15},{"t":203.6,"s":"2FE00ATM","v":20.8},{"t":230.0,"s":"2FE00ATM","v":21.1},{"t":230.6,"s":"2FE00ATM","v":20.8},{"t":237.5,"s":"2FE00ATM","v":21.1},{"t":254.7,"s":"2FE00ATM","v":20.75},{"t":255.3,"s":"2FE00ATM","v":21.1},{"t":258.7,"s":"2FE00ATM","v":20.75},{"t":259.3,"s":"2FE00ATM","v":21.1},{"t":276.7,"s":"2FE00ATM","v":21.4},{"t":277.3,"s":"2FE00ATM","v":21.1},{"t":288.1,"s":"2FE00ATM","v":21.4},{"t":304.8,"s":"2FE00ATM","v":21.75},{"t":305.4,"s":"2FE00ATM","v":21.4},{"t":307.6,"s":"2FE00ATM","v":21.1},{"t":308.2,"s":"2FE00ATM","v":21.4},{"t":314.2,"s":"2FE00ATM","v":21.75},{"t":314.8,"s":"2FE00ATM","v":21.4},{"t":320.5,"s":"2FE00ATM","v":21.1},{"t":321.1,"s":"2FE00ATM","v":21.4},{"t":335.7,"s":"2FE00ATM","v":22.35},{"t":336.3,"s":"2FE00ATM","v":21.4},{"t":338.7,"s":"2FE00ATM","v":21.75},{"t":339.9,"s":"2FE00ATM","v":22.05},{"t":340.5,"s":"2FE00ATM","v":21.75},{"t":343.6,"s":"2FE00ATM","v":21.05},{"t":344.2,"s":"2FE00ATM","v":21.75},{"t":346.4,"s":"2FE00ATM","v":21.4},{"t":347.0,"s":"2FE00ATM","v":21.75},{"t":365.2,"s":"2FE00ATM","v":21.05},{"t":365.8,"s":"2FE00ATM","v":21.75},{"t":371.7,"s":"2FE00ATM","v":22.05},{"t":372.3,"s":"2FE00ATM","v":21.75},{"t":380.6,"s":"2FE00ATM","v":14.0},{"t":381.0,"s":"2FE00ATM","v":21.75},{"t":386.9,"s":"2FE00ATM","v":21.75}]
},
"vconcat": [
{
"width": 1702, "height": 663,
"layer": [
 {"layer": [
  {"data": {"name": "spans"}, "transform": [{"filter": "datum.span == 'dwell'"}], "mark": {"type": "rect", "color": "black", "opacity": 0.105},
   "encoding": {"x": {"field":"t","type":"quantitative","scale":{"domain":[28.7,403.9],"nice":false,"zero":false},"title":null,"axis":{"values":[30,60,90,120,150,180,210,240,270,300,330,360,390],"labels":false,"grid":true,"gridColor":"#b0b0b0","gridWidth":1.5,"gridDash":{"condition":{"test":"datum.value % 60 != 0","value":[6,4]},"value":[]},"tickSize":{"condition":{"test":"datum.value % 60 == 0","value":28},"value":-8},"tickWidth":2,"tickColor":"black","domain":false}}, "x2": {"field": "t2"}}},
  {"data": {"name": "spans"}, "transform": [{"filter": "datum.span == 'obs'"}], "mark": {"type": "rect", "color": "#ff0000", "opacity": 0.055},
   "encoding": {"x": {"field":"t","type":"quantitative","scale":{"domain":[28.7,403.9],"nice":false,"zero":false},"title":null}, "x2": {"field": "t2"}}},
  {"data": {"name": "spans"}, "transform": [{"filter": "datum.span == 'dwell'"}], "mark": {"type": "rule", "color": "#c8c8c8", "strokeWidth": 2},
   "encoding": {"x": {"field":"t","type":"quantitative","scale":{"domain":[28.7,403.9],"nice":false,"zero":false},"title":null}}},
  {"data": {"name": "events"}, "mark": {"type": "rule", "color": "black", "strokeWidth": 1.5},
   "encoding": {"x": {"field":"t","type":"quantitative","scale":{"domain":[28.7,403.9],"nice":false,"zero":false},"title":null}}},
  {"data": {"name": "pitch"}, "mark": {"type": "line", "color": "black", "strokeWidth": 3.5, "clip": true},
   "encoding": {"x": {"field":"t","type":"quantitative","scale":{"domain":[28.7,403.9],"nice":false,"zero":false},"title":null},
    "y": {"field": "v", "type": "quantitative", "scale": {"domain": [44.8, 180], "nice": false, "zero": false}, "axis": {"values": [60,80,100,120,140,160,180]}, "title": "Pitch Angle"}}},
  {"data": {"name": "obsids"}, "transform": [{"filter": "datum.current"}], "mark": {"type": "text", "angle": 270, "align": "left", "baseline": "middle", "fontSize": 28, "fontWeight": "bold", "yOffset": -19},
   "encoding": {"x": {"field":"t","type":"quantitative","scale":{"domain":[28.7,403.9],"nice":false,"zero":false},"title":null}, "y": {"datum": 180}, "text": {"field": "label"}}},
  {"data": {"name": "obsids"}, "transform": [{"filter": "!datum.current"}], "mark": {"type": "text", "angle": 270, "align": "left", "baseline": "middle", "fontSize": 28, "fontWeight": "normal", "yOffset": -19},
   "encoding": {"x": {"field":"t","type":"quantitative","scale":{"domain":[28.7,403.9],"nice":false,"zero":false},"title":null}, "y": {"datum": 180}, "text": {"field": "label"}}}
 ]},
 {"data": {"name": "roll"}, "mark": {"type": "line", "color": "#ff7f0e", "strokeWidth": 3, "clip": true, "strokeJoin": "round"},
  "encoding": {"x": {"field":"t","type":"quantitative","scale":{"domain":[28.7,403.9],"nice":false,"zero":false},"title":null},
   "y": {"field": "v", "type": "quantitative", "scale": {"domain": [-0.086, 1.6], "nice": false, "zero": false},
    "axis": {"orient": "right", "values": [0,0.2,0.4,0.6,0.8,1.0,1.2,1.4,1.6], "format": ".1f", "labelColor": "#ff7f0e", "tickColor": "#ff7f0e", "titleColor": "#ff7f0e", "tickSize": 10, "labelPadding": 10, "titleAngle": 270, "titleBaseline": "top", "titlePadding": 10}, "title": "Off Nominal Roll Angle"}}}
],
"resolve": {"scale": {"y": "independent"}, "axis": {"y": "independent"}}
},
{
"width": 1702, "height": 663,
"layer": [
 {"data": {"name": "spans"}, "transform": [{"filter": "datum.span == 'obs'"}], "mark": {"type": "rect", "color": "#ff0000", "opacity": 0.055},
  "encoding": {"x": {"field":"t","type":"quantitative","scale":{"domain":[28.7,403.9],"nice":false,"zero":false},"title":null,"axis":{"values":[30,60,90,120,150,180,210,240,270,300,330,360,390],"labels":false,"grid":true,"gridColor":"#b0b0b0","gridWidth":1.5,"gridDash":{"condition":{"test":"datum.value % 60 != 0","value":[6,4]},"value":[]},"tickSize":{"condition":{"test":"datum.value % 60 == 0","value":28},"value":-8},"tickWidth":2,"tickColor":"black","domain":false}}, "x2": {"field": "t2"}}},
 {"data": {"name": "events"}, "mark": {"type": "rule", "color": "black", "strokeWidth": 1.5},
  "encoding": {"x": {"field":"t","type":"quantitative","scale":{"domain":[28.7,403.9],"nice":false,"zero":false},"title":null}}},
 {"data": {"name": "temp"}, "mark": {"type": "line", "interpolate": "step-after", "strokeWidth": 7, "clip": true, "strokeCap": "round", "strokeJoin": "round"},
  "encoding": {"x": {"field":"t","type":"quantitative","scale":{"domain":[28.7,403.9],"nice":false,"zero":false},"title":null},
   "y": {"field": "v", "type": "quantitative", "scale": {"domain": [16.65, 29.1], "nice": false, "zero": false}, "axis": {"values": [18,20,22,24,26,28]}, "title": "Temperature"},
   "color": {"field": "s", "type": "nominal", "scale": {"domain": ["2CHTRPZT","2CEAHVPT","2DTSTATT","2DCENTRT"], "range": ["#1f77b4","#ff7f0e","#2ca02c","#d62728"]},
    "legend": {"orient": "top-left", "offset": 13, "columns": 2, "columnPadding": 50, "title": null}}}},
 {"data": {"name": "fit"}, "mark": {"type": "line", "color": "#444444", "opacity": 0.9, "strokeWidth": 5, "clip": true},
  "encoding": {"x": {"field":"t","type":"quantitative","scale":{"domain":[28.7,403.9],"nice":false,"zero":false},"title":null}, "y": {"field": "v", "type": "quantitative"}}},
 {"data": {"name": "fitinfo"}, "mark": {"type": "rect", "fill": "white", "stroke": "black", "strokeWidth": 2},
  "encoding": {"x": {"datum": 213.9, "type": "quantitative"}, "x2": {"datum": 246.3}, "y": {"datum": 18.48, "type": "quantitative"}, "y2": {"datum": 16.31}}},
 {"data": {"name": "fitinfo"}, "mark": {"type": "text", "fontSize": 27, "lineBreak": "\n", "lineHeight": 32, "align": "center", "baseline": "middle"},
  "encoding": {"x": {"datum": 230.1, "type": "quantitative"}, "y": {"datum": 18.06, "type": "quantitative"}, "text": {"field": "label"}}}
]
},
{
"width": 1702, "height": 663,
"layer": [
 {"data": {"name": "spans"}, "transform": [{"filter": "datum.span == 'obs'"}], "mark": {"type": "rect", "color": "#ff0000", "opacity": 0.055},
  "encoding": {"x": {"field":"t","type":"quantitative","scale":{"domain":[28.7,403.9],"nice":false,"zero":false},"title":null,"axis":{"values":[30,60,90,120,150,180,210,240,270,300,330,360,390],"labels":false,"grid":true,"gridColor":"#b0b0b0","gridWidth":1.5,"gridDash":{"condition":{"test":"datum.value % 60 != 0","value":[6,4]},"value":[]},"tickSize":{"condition":{"test":"datum.value % 60 == 0","value":28},"value":-8},"tickWidth":2,"tickColor":"black","domain":false}}, "x2": {"field": "t2"}}},
 {"data": {"name": "events"}, "mark": {"type": "rule", "color": "black", "strokeWidth": 1.5},
  "encoding": {"x": {"field":"t","type":"quantitative","scale":{"domain":[28.7,403.9],"nice":false,"zero":false},"title":null}}},
 {"data": {"name": "rate_tv"}, "transform": [{"fold": ["2TLEV1RT","2VLEV1RT"], "as": ["s","v"]}], "mark": {"type": "line", "strokeWidth": 4, "clip": true},
  "encoding": {"x": {"field":"t","type":"quantitative","scale":{"domain":[28.7,403.9],"nice":false,"zero":false},"title":null},
   "y": {"field": "v", "type": "quantitative", "scale": {"type": "log", "domain": [10, 60000], "nice": false},
    "axis": {"values": [10,100,1000,10000], "labelOverlap": false,
     "labelExpr": "datum.value == 10 ? '10¹' : datum.value == 100 ? '10²' : datum.value == 1000 ? '10³' : '10⁴'"}, "title": "Rate"},
   "color": {"field": "s", "type": "nominal", "scale": {"domain": ["2TLEV1RT","2VLEV1RT","2SHEV1RT"], "range": ["#1f77b4","#ff7f0e","#2ca02c"]},
    "legend": {"orient": "none", "legendX": 728, "legendY": 515, "symbolStrokeWidth": 2.5, "title": null}}}},
 {"data": {"name": "rate_she"}, "mark": {"type": "line", "strokeWidth": 3.5, "clip": true},
  "encoding": {"x": {"field":"t","type":"quantitative","scale":{"domain":[28.7,403.9],"nice":false,"zero":false},"title":null},
   "y": {"field": "v", "type": "quantitative"},
   "color": {"datum": "2SHEV1RT"}}}
]
},
{
"width": 1702, "height": 663,
"layer": [
 {"data": {"name": "spans"}, "transform": [{"filter": "datum.span == 'obs'"}], "mark": {"type": "rect", "color": "#ff0000", "opacity": 0.055},
  "encoding": {"x": {"field":"t","type":"quantitative","scale":{"domain":[28.7,403.9],"nice":false,"zero":false},"title":null,"axis":{"values":[30,60,90,120,150,180,210,240,270,300,330,360,390],"labels":false,"grid":true,"gridColor":"#b0b0b0","gridWidth":1.5,"gridDash":{"condition":{"test":"datum.value % 60 != 0","value":[6,4]},"value":[]},"tickSize":{"condition":{"test":"datum.value % 60 == 0","value":28},"value":-8},"tickWidth":2,"tickColor":"black","domain":false}}, "x2": {"field": "t2"}}},
 {"data": {"name": "events"}, "mark": {"type": "rule", "color": "black", "strokeWidth": 1.5},
  "encoding": {"x": {"field":"t","type":"quantitative","scale":{"domain":[28.7,403.9],"nice":false,"zero":false},"title":null}}},
 {"data": {"name": "volt"}, "mark": {"type": "line", "strokeWidth": 7.5, "clip": true},
  "encoding": {"x": {"field":"t","type":"quantitative","scale":{"domain":[28.7,403.9],"nice":false,"zero":false},"title":null},
   "y": {"field": "v", "type": "quantitative", "scale": {"domain": [-20, 20], "nice": false, "zero": false}, "axis": {"values": [-20,-15,-10,-5,0,5,10,15,20]}, "title": "Volt"},
   "color": {"field": "s", "type": "nominal", "scale": {"domain": ["2P15VAVL","2N15VAVL","2P05VAVL"], "range": ["#1f77b4","#ff7f0e","#2ca02c"]},
    "legend": {"orient": "none", "legendX": 732, "legendY": 264, "title": null}}}}
]
},
{
"width": 1702, "height": 663,
"layer": [
 {"data": {"name": "spans"}, "transform": [{"filter": "datum.span == 'obs'"}], "mark": {"type": "rect", "color": "#ff0000", "opacity": 0.055},
  "encoding": {"x": {"field":"t","type":"quantitative","scale":{"domain":[28.7,403.9],"nice":false,"zero":false},"title":null,"axis":{"values":[30,60,90,120,150,180,210,240,270,300,330,360,390],"labels":false,"grid":true,"gridColor":"#b0b0b0","gridWidth":1.5,"gridDash":{"condition":{"test":"datum.value % 60 != 0","value":[6,4]},"value":[]},"tickSize":{"condition":{"test":"datum.value % 60 == 0","value":28},"value":-8},"tickWidth":2,"tickColor":"black","domain":false}}, "x2": {"field": "t2"}}},
 {"data": {"name": "events"}, "mark": {"type": "rule", "color": "black", "strokeWidth": 1.5},
  "encoding": {"x": {"field":"t","type":"quantitative","scale":{"domain":[28.7,403.9],"nice":false,"zero":false},"title":null}}},
 {"data": {"name": "hv"}, "transform": [{"fold": ["2IMHVLV","2IMHBLV"], "as": ["s","v"]}], "mark": {"type": "point", "filled": true, "size": 115, "opacity": 1, "clip": true},
  "encoding": {"x": {"field":"t","type":"quantitative","scale":{"domain":[28.7,403.9],"nice":false,"zero":false},"title":null},
   "y": {"field": "v", "type": "quantitative", "scale": {"domain": [0, 266.4], "nice": false, "zero": false}, "axis": {"values": [0,50,100,150,200,250]}, "title": "HV Monitor"},
   "color": {"field": "s", "type": "nominal", "scale": {"domain": ["2SPHBLV","2SPHVLV","2IMHVLV","2IMHBLV"], "range": ["#1f77b4","#ff7f0e","#2ca02c","#d62728"]},
    "legend": {"orient": "none", "legendX": 741, "legendY": 476, "symbolType": "circle", "symbolSize": 90, "symbolStrokeWidth": 0, "rowPadding": 9, "title": null}}}}
]
},
{
"width": 1702, "height": 663,
"layer": [
 {"data": {"name": "spans"}, "transform": [{"filter": "datum.span == 'obs'"}], "mark": {"type": "rect", "color": "#ff0000", "opacity": 0.055},
  "encoding": {"x": {"field":"t","type":"quantitative","scale":{"domain":[28.7,403.9],"nice":false,"zero":false},"title":null,"axis":{"values":[30,60,90,120,150,180,210,240,270,300,330,360,390],"labels":false,"grid":true,"gridColor":"#b0b0b0","gridWidth":1.5,"gridDash":{"condition":{"test":"datum.value % 60 != 0","value":[6,4]},"value":[]},"tickSize":{"condition":{"test":"datum.value % 60 == 0","value":28},"value":-8},"tickWidth":2,"tickColor":"black","domain":false}}, "x2": {"field": "t2"}}},
 {"data": {"name": "events"}, "mark": {"type": "rule", "color": "black", "strokeWidth": 1.5},
  "encoding": {"x": {"field":"t","type":"quantitative","scale":{"domain":[28.7,403.9],"nice":false,"zero":false},"title":null}}},
 {"data": {"name": "dettemp"}, "mark": {"type": "line", "interpolate": "step-after", "strokeWidth": 7.5, "clip": true, "strokeCap": "round", "strokeJoin": "round"},
  "encoding": {"x": {"field":"t","type":"quantitative","scale":{"domain":[28.7,403.9],"nice":false,"zero":false},"title":null},
   "y": {"field": "v", "type": "quantitative", "scale": {"domain": [16.77, 34.24], "nice": false, "zero": false}, "axis": {"values": [18,20,22,24,26,28,30,32,34]}, "title": "Detector Temp"},
   "color": {"field": "s", "type": "nominal", "scale": {"domain": ["2SPINATM","2SPHVATM","2IMINATM","2IMHVATM"], "range": ["#1f77b4","#ff7f0e","#2ca02c","#d62728"]},
    "legend": {"orient": "none", "legendX": 728, "legendY": 243, "title": null}}}}
]
},
{
"width": 1702, "height": 663,
"layer": [
 {"data": {"name": "spans"}, "transform": [{"filter": "datum.span == 'obs'"}], "mark": {"type": "rect", "color": "#ff0000", "opacity": 0.055},
  "encoding": {"x": {"field":"t","type":"quantitative","scale":{"domain":[28.7,403.9],"nice":false,"zero":false},
   "axis":{"values":[30,60,90,120,150,180,210,240,270,300,330,360,390],"labels":true,"grid":true,"gridColor":"#b0b0b0","gridWidth":1.5,"gridDash":{"condition":{"test":"datum.value % 60 != 0","value":[6,4]},"value":[]},"tickSize":{"condition":{"test":"datum.value % 60 == 0","value":28},"value":-8},"tickWidth":2,"tickColor":"black","domain":false,
    "labelExpr": "datum.value % 60 == 0 ? (datum.value == 60 ? '23h' : '0' + (datum.value / 60 - 2) + 'h') : '30'",
    "labelFontSize": {"condition": {"test": "datum.value % 60 == 0", "value": 29}, "value": 17},
    "labelPadding": {"condition": {"test": "datum.value % 60 == 0", "value": 10}, "value": 16},
    "labelBaseline": "top", "labelFlush": false, "labelOverlap": false,
    "title": "2020-05-01 (122)", "titleFontSize": 29, "titlePadding": 6}}, "x2": {"field": "t2"}}},
 {"data": {"name": "events"}, "mark": {"type": "rule", "color": "black", "strokeWidth": 1.5},
  "encoding": {"x": {"field":"t","type":"quantitative","scale":{"domain":[28.7,403.9],"nice":false,"zero":false}}}},
 {"data": {"name": "featemp"}, "mark": {"type": "line", "interpolate": "step-after", "strokeWidth": 8, "clip": true, "strokeCap": "round", "strokeJoin": "round"},
  "encoding": {"x": {"field":"t","type":"quantitative","scale":{"domain":[28.7,403.9],"nice":false,"zero":false}},
   "y": {"field": "v", "type": "quantitative", "scale": {"domain": [14.68, 25.37], "nice": false, "zero": false}, "axis": {"values": [16,18,20,22,24]}, "title": "FEA Temp"},
   "color": {"field": "s", "type": "nominal", "scale": {"domain": ["2FHTRMZT","2FRADPYT","2FEPRATM","2FE00ATM"], "range": ["#1f77b4","#ff7f0e","#2ca02c","#d62728"]},
    "legend": {"orient": "bottom-right", "offset": 14, "title": null}}}}
]
}
],
"resolve": {"scale": {"color": "independent"}, "legend": {"color": "independent"}},
"config": {
 "font": "DejaVu Sans",
 "view": {"stroke": "black", "strokeWidth": 2.5},
 "axis": {"labelFont": "DejaVu Sans", "titleFont": "DejaVu Sans", "labelFontSize": 28, "titleFontSize": 28, "titleFontWeight": "normal", "labelColor": "black", "titleColor": "black", "tickColor": "black", "tickWidth": 2, "domain": false, "labelFlush": false},
 "axisY": {"tickSize": 27, "labelPadding": 12, "titlePadding": 10, "grid": false},
 "legend": {"labelFont": "DejaVu Sans", "labelFontSize": 27, "symbolType": "stroke", "symbolStrokeWidth": 6, "symbolSize": 3000, "fillColor": "rgba(255,255,255,0.8)", "strokeColor": "#cccccc", "strokeWidth": 2, "cornerRadius": 6, "padding": 10, "rowPadding": 1, "labelOffset": 14, "labelLimit": 400}
}
}
